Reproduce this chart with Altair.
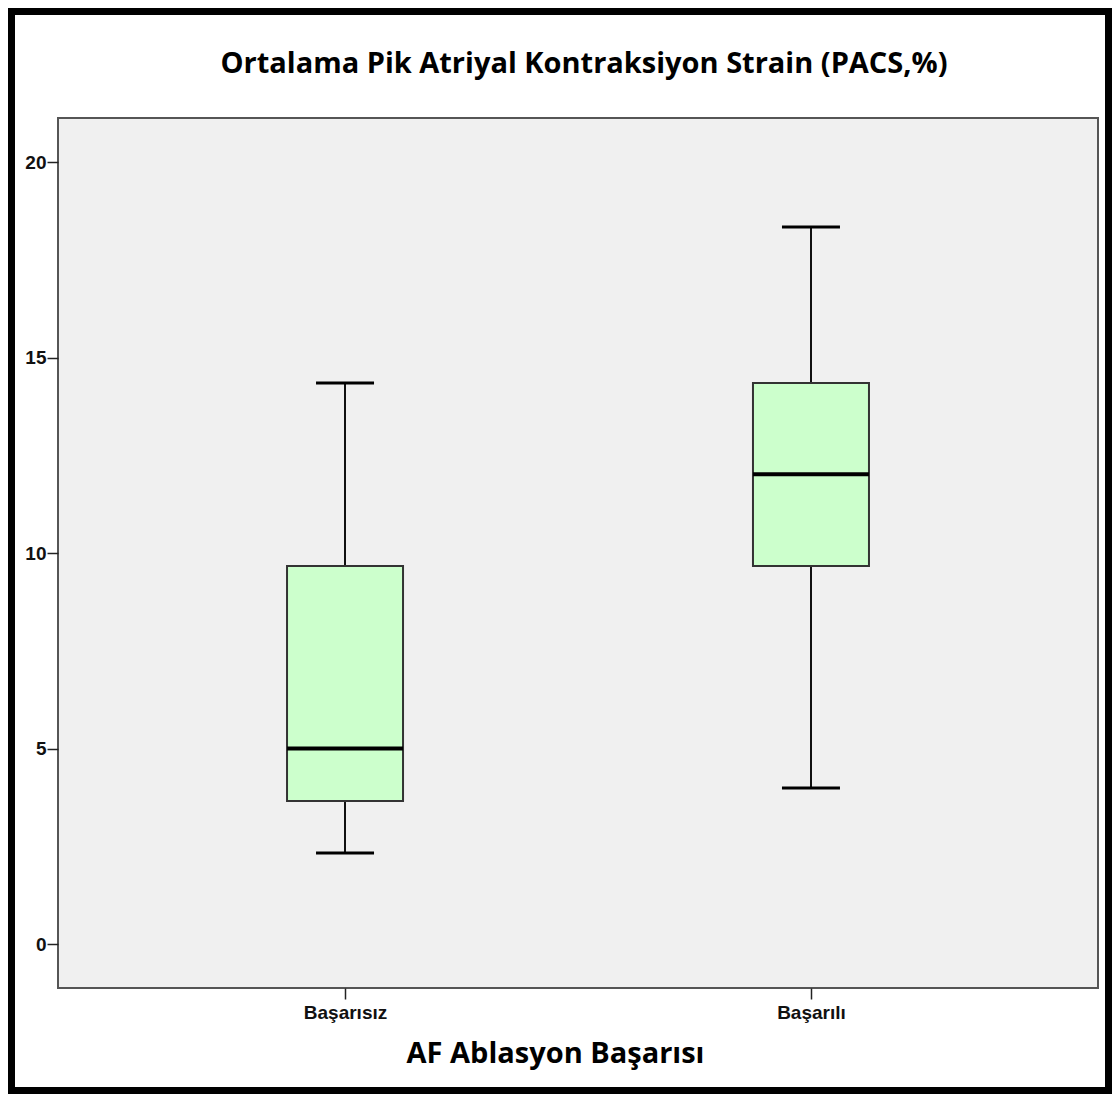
import altair as alt
import pandas as pd

groups = ["Başarısız", "Başarılı"]
whisker_low = [2.33, 3.99]
q1 = [3.66, 9.67]
median = [5.0, 12.02]
q3 = [9.67, 14.35]
whisker_high = [14.35, 18.34]
y_ticks = [0, 5, 10, 15, 20]

title_text = "Ortalama Pik Atriyal Kontraksiyon Strain (PACS,%)"
x_title = "AF Ablasyon Başarısı"

df = pd.DataFrame({
    "group": groups,
    "low": whisker_low,
    "q1": q1,
    "median": median,
    "q3": q3,
    "high": whisker_high,
})

W, H = 1040, 870
TITLE_FONT = "Open Sans"

xscale = alt.Scale(type="point", domain=groups, padding=0.616)
yscale = alt.Scale(domain=[-1.125, 21.13], nice=False, zero=False)

xenc = alt.X("group:N", scale=xscale, sort=groups,
             axis=alt.Axis(title=x_title, labelAngle=0, tickSize=11, labelPadding=4,
                           tickColor="#222222", tickWidth=1.5, domain=False,
                           labelFont="Liberation Sans", labelFontWeight="bold",
                           labelFontSize=19, labelColor="#111111",
                           titleFont=TITLE_FONT, titleFontWeight="bold", titleFontSize=29,
                           titleColor="#000000", titleX=497, titleY=74,
                           titleBaseline="alphabetic", titleAnchor="start", titleAlign="center"))
yaxis = alt.Axis(title=None, values=y_ticks, tickSize=11, labelPadding=1, grid=False,
                 domain=False, tickColor="#222222", tickWidth=1.5,
                 labelFont="Liberation Sans", labelFontWeight="bold", labelFontSize=19,
                 labelColor="#111111")

base = alt.Chart(df)
xplain = alt.X("group:N", scale=xscale, sort=groups)

whisk_lo = base.mark_rule(color="#111111", strokeWidth=2).encode(
    x=xenc, y=alt.Y("low:Q", scale=yscale, axis=yaxis), y2="q1:Q")
whisk_hi = base.mark_rule(color="#111111", strokeWidth=2).encode(
    x=xplain, y=alt.Y("q3:Q", scale=yscale), y2="high:Q")
box = base.mark_bar(size=116, fill="#CCFFCC", stroke="#333333", strokeWidth=2).encode(
    x=xplain, y=alt.Y("q1:Q", scale=yscale), y2="q3:Q")
med = base.mark_tick(size=116, thickness=4, color="#000000", opacity=1).encode(
    x=xplain, y=alt.Y("median:Q", scale=yscale))
cap_lo = base.mark_tick(size=58, thickness=3, color="#000000", opacity=1).encode(
    x=xplain, y=alt.Y("low:Q", scale=yscale))
cap_hi = base.mark_tick(size=58, thickness=3, color="#000000", opacity=1).encode(
    x=xplain, y=alt.Y("high:Q", scale=yscale))

one = pd.DataFrame({"t": [title_text]})
title = alt.Chart(one).mark_text(
    font=TITLE_FONT, fontSize=29, fontWeight="bold", color="#000000",
    align="center", baseline="alphabetic").encode(
    text="t:N", x=alt.value(526), y=alt.value(-45))

border = alt.Chart(pd.DataFrame({"a": [0]})).mark_rect(
    fillOpacity=0, stroke="#000000", strokeWidth=7).encode(
    x=alt.value(-46.5), x2=alt.value(1050.5), y=alt.value(-106.5), y2=alt.value(972.5))

chart = alt.layer(whisk_lo, whisk_hi, box, med, cap_lo, cap_hi, title, border).properties(
    width=W, height=H,
    autosize=alt.AutoSizeParams(type="none"),
    padding={"left": 50, "top": 110, "right": 14, "bottom": 106},
    background="#FFFFFF",
).configure_view(fill="#F0F0F0", stroke="#555555", strokeWidth=2)

chart.save("out.html", embed_options={"renderer": "svg", "actions": False})
